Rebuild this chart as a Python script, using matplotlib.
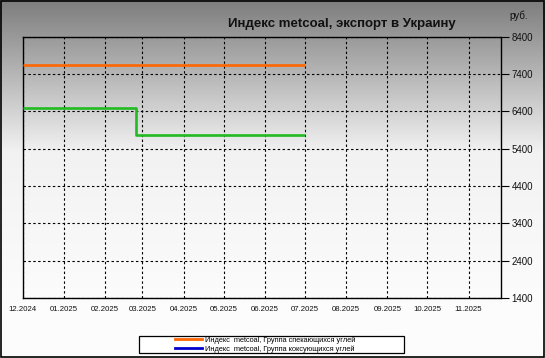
import numpy as np
import pandas as pd
import matplotlib
matplotlib.use("Agg")
import matplotlib.pyplot as plt
from matplotlib.lines import Line2D
from matplotlib.colors import LinearSegmentedColormap

title = "Индекс metcoal, экспорт в Украину"
unit = "руб."
series1_name = "Индекс  metcoal, Группа спекающихся углей"
series2_name = "Индекс  metcoal, Группа коксующихся углей"

s1_dates = ["2024-12-01", "2025-07-01"]
s1_values = [7650, 7650]
s2_dates = ["2024-12-01", "2025-02-24", "2025-07-01"]
s2_values = [6490, 5780, 5780]

y_ticks = [1400, 2400, 3400, 4400, 5400, 6400, 7400, 8400]
x_ticks = ["2024-12-01", "2025-01-01", "2025-02-01", "2025-03-01", "2025-04-01",
           "2025-05-01", "2025-06-01", "2025-07-01", "2025-08-01", "2025-09-01",
           "2025-10-01", "2025-11-01"]
x_range = ["2024-12-01", "2025-11-25"]

plt.rcParams['font.family'] = ['Liberation Sans', 'DejaVu Sans']

W, H = 545, 358
fig = plt.figure(figsize=(W/100, H/100), dpi=100)

# gradient background
bg = fig.add_axes([0, 0, 1, 1], zorder=-10)
grad = np.linspace(0, 1, 256).reshape(-1, 1)
cmap = LinearSegmentedColormap.from_list("g", ["#7e7e7e", "#f2f2f2", "#fcfcfc"])
vals = np.clip(grad / 0.85, 0, 1)
bg.imshow(vals, aspect='auto', cmap=cmap, extent=[0, 1, 0, 1], origin='upper', vmin=0, vmax=1)
bg.set_xlim(0, 1); bg.set_ylim(0, 1)
bg.axis('off')
bg.add_patch(plt.Rectangle((0.001, 0.002), 0.997, 0.995, fill=False, edgecolor='black', lw=1.2, transform=bg.transAxes))
# legend frame
bg.add_patch(plt.Rectangle((138.7/W, 1 - 353.3/H), (404-138.7)/W, (353.3-335.9)/H,
                           facecolor='white', edgecolor='black', lw=0.9, transform=bg.transAxes, zorder=5))

ax = fig.add_axes([22.6/W, 60/H, (500.5-22.6)/W, (298-36.7)/H])
ax.set_facecolor('none')

d1 = pd.to_datetime(s1_dates)
d2 = pd.to_datetime(s2_dates)
ax.plot(d1, s1_values, color='#ff6600', lw=1.9, drawstyle='steps-post', solid_capstyle='butt', zorder=3)
ax.plot(d2, s2_values, color='#22bb22', lw=1.9, drawstyle='steps-post', solid_capstyle='butt', zorder=3)

ax.set_xlim(pd.to_datetime(x_range[0]), pd.to_datetime(x_range[1]))
ax.set_ylim(y_ticks[0], y_ticks[-1])

xt = pd.to_datetime(x_ticks)
ax.set_xticks(xt)
ax.set_xticklabels([d.strftime("%m.%Y") for d in xt], fontsize=5.6, color='#111111')
ax.tick_params(axis='x', length=0, pad=6)

ax.yaxis.tick_right()
ax.set_yticks(y_ticks)
ax.set_yticklabels([str(v) for v in y_ticks], fontsize=7, color='#111111')
ax.tick_params(axis='y', length=6, width=0.8, pad=2, direction='out', color='black')

ax.grid(True, color='black', linestyle=(0, (2.2, 2.2)), lw=0.8)
for s in ax.spines.values():
    s.set_color('black'); s.set_linewidth(1.0)

fig.text(342/W, 1 - 24/H, title, ha='center', va='center', fontsize=9.5, fontweight='bold', color='#111111')
fig.text(519/W, 1 - 16/H, unit, ha='center', va='center', fontsize=7, color='#111111')

handles = [Line2D([], [], color='#ff6600', lw=2), Line2D([], [], color='#0000cc', lw=2)]
leg = fig.legend(handles, [series1_name, series2_name], loc='center left',
                 bbox_to_anchor=(175/W, 1 - 344.6/H), fontsize=5.3, frameon=False,
                 handlelength=3.7, handletextpad=0.4, borderpad=0, labelspacing=0.15,
                 borderaxespad=0)
leg.set_zorder(20)
fig.savefig("out.png", dpi=100)
